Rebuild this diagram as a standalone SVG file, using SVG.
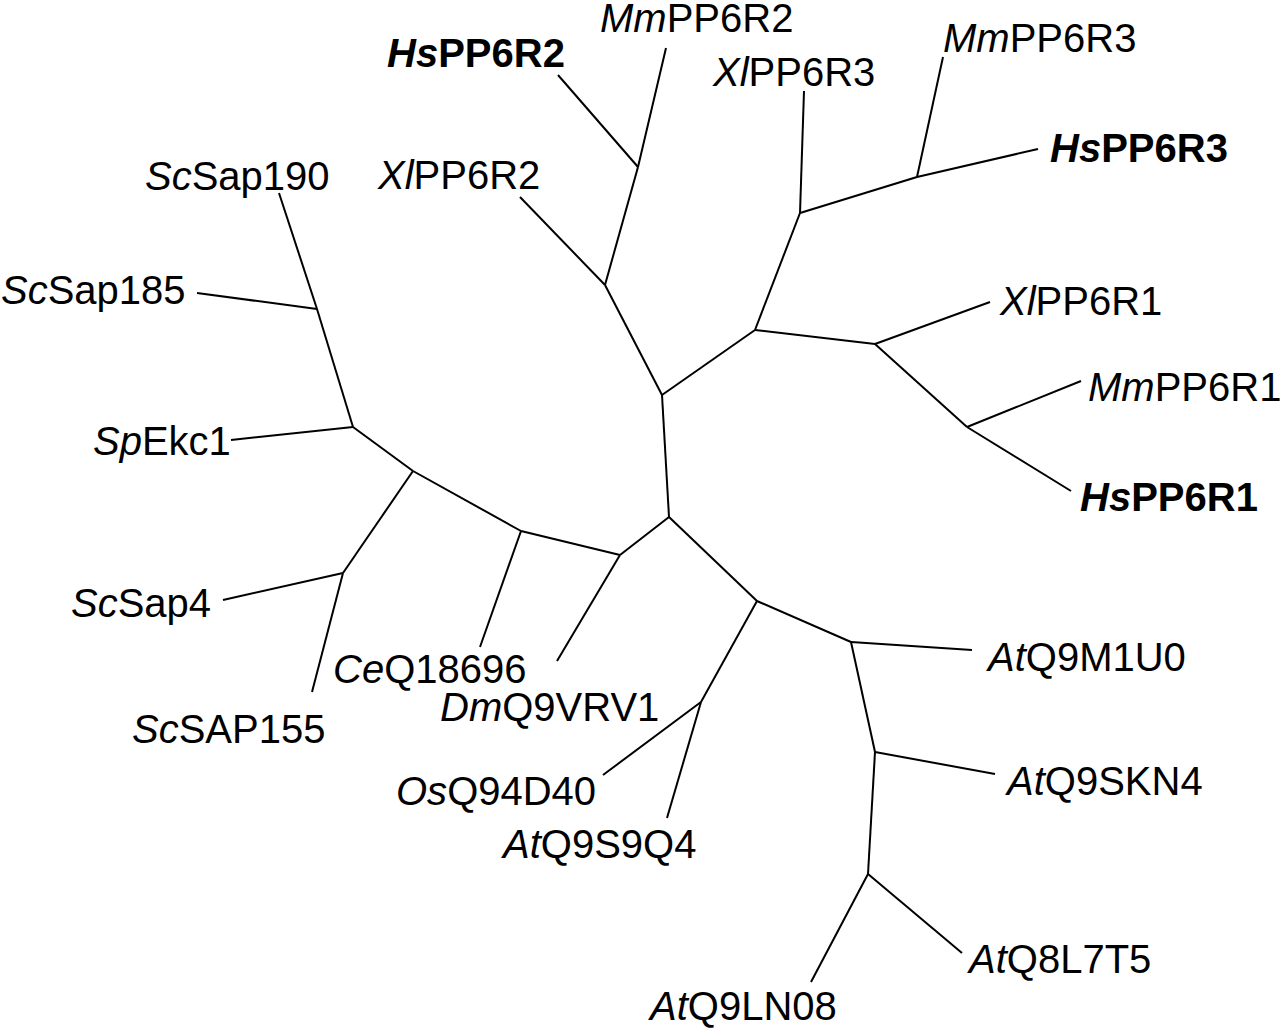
<svg xmlns="http://www.w3.org/2000/svg" width="1280" height="1028" viewBox="0 0 1280 1028">
<style>
.lbl{font-family:"Liberation Sans",Arial,sans-serif;font-size:40px;fill:#000}
.b{font-weight:bold}
.i{font-style:italic}
.br{stroke:#000;stroke-width:2;fill:none;stroke-linecap:butt;stroke-linejoin:miter}
</style>
<rect width="1280" height="1028" fill="#fff"/>
<g id="connectors" class="br">
<path d="M662,395 L669,517"/>
<path d="M662,395 L605,285"/>
<path d="M662,395 L755,330"/>
<path d="M605,285 L638,167"/>
<path d="M638,167 L666,48"/>
<path d="M638,167 L558,75"/>
<path d="M605,285 L520,197"/>
<path d="M755,330 L800,213"/>
<path d="M800,213 L804,91"/>
<path d="M800,213 L917,177"/>
<path d="M917,177 L943,57"/>
<path d="M917,177 L1038,149"/>
<path d="M755,330 L875,344"/>
<path d="M875,344 L990,302"/>
<path d="M875,344 L967,427"/>
<path d="M967,427 L1081,381"/>
<path d="M967,427 L1071,491"/>
<path d="M669,517 L620,555"/>
<path d="M620,555 L557,661"/>
<path d="M620,555 L521,531"/>
<path d="M521,531 L480,647"/>
<path d="M521,531 L413,471"/>
<path d="M413,471 L353,427"/>
<path d="M353,427 L231,440"/>
<path d="M353,427 L317,309"/>
<path d="M317,309 L279,193"/>
<path d="M317,309 L197,293"/>
<path d="M413,471 L343,573"/>
<path d="M343,573 L223,600"/>
<path d="M343,573 L312,692"/>
<path d="M669,517 L757,601"/>
<path d="M757,601 L701,702"/>
<path d="M701,702 L603,775"/>
<path d="M701,702 L667,818"/>
<path d="M757,601 L851,642"/>
<path d="M851,642 L972,650"/>
<path d="M851,642 L875,752"/>
<path d="M875,752 L995,774"/>
<path d="M875,752 L868,874"/>
<path d="M868,874 L962,953"/>
<path d="M868,874 L811,982"/>
</g>
<g id="MmPP6R2"><text class="lbl" x="600" y="32"><tspan class="i">Mm</tspan>PP6R2</text></g>
<g id="HsPP6R2"><text class="lbl b" x="387" y="67"><tspan class="i">Hs</tspan>PP6R2</text></g>
<g id="XlPP6R3"><text class="lbl" x="713" y="86"><tspan class="i">Xl</tspan>PP6R3</text></g>
<g id="MmPP6R3"><text class="lbl" x="943" y="52"><tspan class="i">Mm</tspan>PP6R3</text></g>
<g id="HsPP6R3"><text class="lbl b" x="1050" y="162"><tspan class="i">Hs</tspan>PP6R3</text></g>
<g id="XlPP6R2"><text class="lbl" x="378" y="189"><tspan class="i">Xl</tspan>PP6R2</text></g>
<g id="ScSap190"><text class="lbl" x="145" y="190"><tspan class="i">Sc</tspan>Sap190</text></g>
<g id="ScSap185"><text class="lbl" x="1" y="304"><tspan class="i">Sc</tspan>Sap185</text></g>
<g id="SpEkc1"><text class="lbl" x="93" y="455"><tspan class="i">Sp</tspan>Ekc1</text></g>
<g id="XlPP6R1"><text class="lbl" x="1000" y="315"><tspan class="i">Xl</tspan>PP6R1</text></g>
<g id="MmPP6R1"><text class="lbl" x="1088" y="401"><tspan class="i">Mm</tspan>PP6R1</text></g>
<g id="HsPP6R1"><text class="lbl b" x="1080" y="511"><tspan class="i">Hs</tspan>PP6R1</text></g>
<g id="ScSap4"><text class="lbl" x="71" y="617"><tspan class="i">Sc</tspan>Sap4</text></g>
<g id="ScSAP155"><text class="lbl" x="132" y="743"><tspan class="i">Sc</tspan>SAP155</text></g>
<g id="CeQ18696"><text class="lbl" x="333" y="683"><tspan class="i">Ce</tspan>Q18696</text></g>
<g id="DmQ9VRV1"><text class="lbl" x="440" y="721"><tspan class="i">Dm</tspan>Q9VRV1</text></g>
<g id="OsQ94D40"><text class="lbl" x="396" y="805"><tspan class="i">Os</tspan>Q94D40</text></g>
<g id="AtQ9S9Q4"><text class="lbl" x="503" y="858"><tspan class="i">At</tspan>Q9S9Q4</text></g>
<g id="AtQ9M1U0"><text class="lbl" x="988" y="671"><tspan class="i">At</tspan>Q9M1U0</text></g>
<g id="AtQ9SKN4"><text class="lbl" x="1007" y="795"><tspan class="i">At</tspan>Q9SKN4</text></g>
<g id="AtQ8L7T5"><text class="lbl" x="969" y="973"><tspan class="i">At</tspan>Q8L7T5</text></g>
<g id="AtQ9LN08"><text class="lbl" x="650" y="1020"><tspan class="i">At</tspan>Q9LN08</text></g>
</svg>
